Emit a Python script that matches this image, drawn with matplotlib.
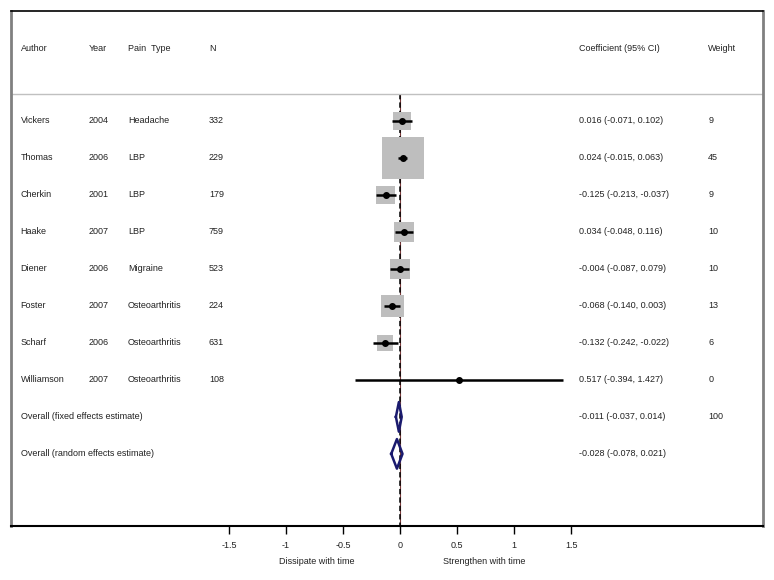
import matplotlib
matplotlib.use("Agg")
import matplotlib.pyplot as plt

plt.rcParams['font.family'] = ['Liberation Sans', 'DejaVu Sans']

authors = ["Vickers", "Thomas", "Cherkin", "Haake", "Diener", "Foster", "Scharf", "Williamson"]
years = ["2004", "2006", "2001", "2007", "2006", "2007", "2006", "2007"]
pain_types = ["Headache", "LBP", "LBP", "LBP", "Migraine", "Osteoarthritis", "Osteoarthritis", "Osteoarthritis"]
n_sizes = ["332", "229", "179", "759", "523", "224", "631", "108"]
coef = [0.016, 0.024, -0.125, 0.034, -0.004, -0.068, -0.132, 0.517]
lower = [-0.071, -0.015, -0.213, -0.048, -0.087, -0.140, -0.242, -0.394]
upper = [0.102, 0.063, -0.037, 0.116, 0.079, 0.003, -0.022, 1.427]
weights = [9, 45, 9, 10, 10, 13, 6, 0]

overall_labels = ["Overall (fixed effects estimate)", "Overall (random effects estimate)"]
overall_coef = [-0.011, -0.028]
overall_lower = [-0.037, -0.078]
overall_upper = [0.014, 0.021]
overall_weight = ["100", ""]

headers = ["Author", "Year", "Pain  Type", "N", "Coefficient (95% CI)", "Weight"]
ticks = [-1.5, -1, -0.5, 0, 0.5, 1, 1.5]
tick_labels = ["-1.5", "-1", "-0.5", "0", "0.5", "1", "1.5"]

fig = plt.figure(figsize=(7.74, 5.80), dpi=100)
ax = fig.add_axes([0.0142, 0.0931, 0.9716, 0.8879])
ax.set_xlim(-3.41, 3.18)
ax.set_ylim(10.95, -2.97)

# column positions (data x)
col_x = [-3.325, -2.73, -2.386, -1.675, 1.57, 2.70]
header_y = -1.95
fs = 6.5
tc = '#222222'

for x, h in zip(col_x, headers):
    ax.text(x, header_y, h, fontsize=fs, va='center', ha='left', color=tc)
ax.axhline(-0.73, color='#c0c0c0', lw=1)

# reference line at zero
ax.vlines(0, -0.73, 10.95, color='#7a3b3b', lw=0.8, zorder=1)
ax.vlines(0, -0.73, 10.95, color='black', lw=1.1, linestyles=(0, (3.5, 2)), zorder=1.1)

rows = list(range(len(authors)))
for i in rows:
    ax.text(col_x[0], i, authors[i], fontsize=fs, va='center', color=tc)
    ax.text(col_x[1], i, years[i], fontsize=fs, va='center', color=tc)
    ax.text(col_x[2], i, pain_types[i], fontsize=fs, va='center', color=tc)
    ax.text(col_x[3], i, n_sizes[i], fontsize=fs, va='center', color=tc)
    ax.text(col_x[4], i, "%.3f (%.3f, %.3f)" % (coef[i], lower[i], upper[i]), fontsize=fs, va='center', color=tc)
    ax.text(col_x[5], i, str(weights[i]), fontsize=fs, va='center', color=tc)

# boxes, side proportional to sqrt(weight)
box_sizes = [914 * w / 45 for w in weights]
ax.scatter(coef, rows, s=box_sizes, marker='s', color='#bebebe', edgecolors='none', zorder=2)
ax.hlines(rows, lower, upper, color='black', lw=1.8, zorder=3)
ax.scatter(coef, rows, s=16, color='black', zorder=4)

# overall diamonds
for j in range(2):
    y = len(authors) + j
    ax.text(col_x[0], y, overall_labels[j], fontsize=fs, va='center', color=tc)
    ax.text(col_x[4], y, "%.3f (%.3f, %.3f)" % (overall_coef[j], overall_lower[j], overall_upper[j]),
            fontsize=fs, va='center', color=tc)
    ax.text(col_x[5], y, overall_weight[j], fontsize=fs, va='center', color=tc)
    h = 0.4
    ax.plot([overall_lower[j], overall_coef[j], overall_upper[j], overall_coef[j], overall_lower[j]],
            [y, y - h, y, y + h, y], color='#1a1a6e', lw=1.8, zorder=5)

# axes styling
ax.set_yticks([])
ax.set_xticks(ticks)
ax.set_xticklabels(tick_labels, fontsize=fs, color=tc)
ax.tick_params(axis='x', length=6, width=1, pad=5)
for side in ['left', 'right']:
    ax.spines[side].set_color('#808080')
    ax.spines[side].set_linewidth(2)
ax.spines['top'].set_linewidth(1.2)
ax.spines['bottom'].set_linewidth(1.5)

fig.text(317 / 774, 1 - 562 / 580, "Dissipate with time", fontsize=fs, ha='center', va='center', color=tc)
fig.text(484 / 774, 1 - 562 / 580, "Strengthen with time", fontsize=fs, ha='center', va='center', color=tc)

fig.savefig("out.png", dpi=100)
